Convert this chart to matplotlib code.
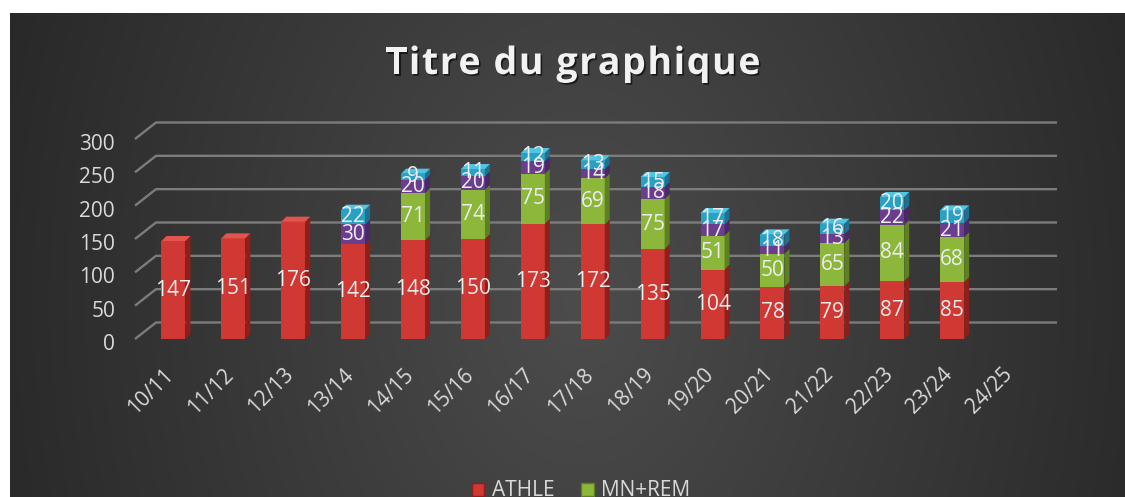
import numpy as np
import matplotlib
matplotlib.use('Agg')
import matplotlib.pyplot as plt
import matplotlib.patheffects as pe
from matplotlib.patches import Patch
from matplotlib.transforms import ScaledTranslation
from matplotlib import font_manager as fm
from matplotlib.ft2font import FT2Font

plt.rcParams['font.family'] = ['Open Sans', 'DejaVu Sans']

# data
seasons = ['10/11', '11/12', '12/13', '13/14', '14/15', '15/16', '16/17', '17/18',
           '18/19', '19/20', '20/21', '21/22', '22/23', '23/24', '24/25']
athle = [147, 151, 176, 142, 148, 150, 173, 172, 135, 104, 78, 79, 87, 85, 0]
mn_rem = [0, 0, 0, 0, 71, 74, 75, 69, 75, 51, 50, 65, 84, 68, 0]
serie3 = [0, 0, 0, 30, 20, 20, 19, 14, 18, 17, 11, 13, 22, 21, 0]
serie4 = [0, 0, 0, 22, 9, 11, 12, 13, 15, 17, 18, 16, 20, 19, 0]
yticks = [0, 50, 100, 150, 200, 250, 300]

series = [athle, mn_rem, serie3, serie4]
# front, side, top colours
colors = [('#cf3833', '#8e1f1b', '#e3544d'),
          ('#8cb73b', '#5e7f22', '#a6cd56'),
          ('#6b3d8f', '#492a66', '#855aa9'),
          ('#2aa0c5', '#1c7290', '#4fc4e3')]

W, H = 1125, 497
fig = plt.figure(figsize=(W / 100, H / 100), dpi=100, facecolor='white')

# dark radial background
bg = fig.add_axes([10 / W, 0, (W - 10) / W, (H - 13) / H])
X, Y = np.meshgrid(np.arange(10, W), np.arange(13, H))
r = np.sqrt(((X - 580) / 650.0) ** 2 + ((Y - 300) / 900.0) ** 2)
g = (76 - 38 * np.clip(r, 0, 1)) / 255.0
bg.imshow(np.dstack([g, g, g]), aspect='auto', extent=[0, 1, 0, 1])
bg.axis('off')

px_cat = 59.9
px_val = 200 / 300
ax = fig.add_axes([143.5 / W, 158 / H, 898.5 / W, 200 / H])
ax.set_facecolor('none')
ax.set_xlim(-0.5, 14.5)
ax.set_ylim(0, 300)
for s in ax.spines.values():
    s.set_visible(False)

# back wall gridlines with the 3D diagonal on the left
gx, gy = 21 / px_cat, 16.5 / px_val
x_front = (135 - 143.5) / px_cat - 0.5
x_end = (1057 - 143.5) / px_cat - 0.5
for v in yticks:
    ax.plot([x_front, x_front + gx, x_end], [v, v + gy, v + gy],
            color='#7c7c7c', lw=1.7, zorder=1, clip_on=False, solid_capstyle='butt')

x = np.arange(len(seasons))
w = 0.4
ddx, ddy = 5 / px_cat, 5 / px_val
bottom = np.zeros(len(seasons))
tops = np.array([sum(col) for col in zip(*series)], dtype=float)
for vals, (front, side, top) in zip(series, colors):
    vals = np.array(vals, dtype=float)
    ax.bar(x, vals, bottom=bottom, width=w, color=front, linewidth=0, zorder=3)
    for i in range(len(x)):
        if vals[i] <= 0:
            continue
        b, t = bottom[i], bottom[i] + vals[i]
        xr = x[i] + w / 2
        ax.fill([xr, xr + ddx, xr + ddx, xr], [b, b + ddy, t + ddy, t],
                color=side, lw=0, zorder=3, clip_on=False)
        if t == tops[i]:
            xl = x[i] - w / 2
            ax.fill([xl, xr, xr + ddx, xl + ddx], [t, t, t + ddy, t + ddy],
                    color=top, lw=0, zorder=3, clip_on=False)
        ax.text(x[i], b + vals[i] / 2, f'{int(vals[i])}', ha='center', va='center',
                fontsize=15, color='#ededed', zorder=5)
    bottom += vals

ax.set_yticks(yticks)
ax.tick_params(axis='y', length=0, pad=20.5, labelsize=15, labelcolor='#d9d9d9')
for lab in ax.get_yticklabels():
    lab.set_transform(lab.get_transform() + ScaledTranslation(0, -0.03, fig.dpi_scale_trans))
ax.set_xticks(x, seasons)
ax.tick_params(axis='x', length=0, pad=18, labelsize=15, labelcolor='#d9d9d9')
plt.setp(ax.get_xticklabels(), rotation=45, ha='right', rotation_mode='anchor')
for lab in ax.get_xticklabels():
    lab.set_transform(lab.get_transform() + ScaledTranslation(-0.1, 0, fig.dpi_scale_trans))

# title with a little letter spacing
title = 'Titre du graphique'
fp = fm.FontProperties(family='Open Sans', weight='bold', size=27)
font = FT2Font(fm.findfont(fp))
font.set_size(27, 100)
adv = [font.load_char(ord(c)).linearHoriAdvance / 65536 for c in title]
spacing = 1.6
total = sum(adv) + spacing * (len(title) - 1)
cx = 573 - total / 2
for c, a in zip(title, adv):
    fig.text(cx / W, (H - 74) / H, c, fontproperties=fp, color='#f2f2f2',
             ha='left', va='baseline',
             path_effects=[pe.withSimplePatchShadow(offset=(1.2, -1.2), shadow_rgbFace='black', alpha=0.6)])
    cx += a + spacing

handles = [Patch(facecolor=colors[0][0], edgecolor=colors[0][1], label='ATHLE'),
           Patch(facecolor=colors[1][0], edgecolor=colors[1][1], label='MN+REM')]
fig.legend(handles=handles, loc='center', bbox_to_anchor=(581 / W, 6 / H), ncol=2,
           frameon=False, fontsize=15, labelcolor='#d9d9d9', handlelength=0.6,
           handleheight=0.6, handletextpad=0.35, columnspacing=1.3)

fig.savefig('out.png', dpi=100, facecolor='white')
